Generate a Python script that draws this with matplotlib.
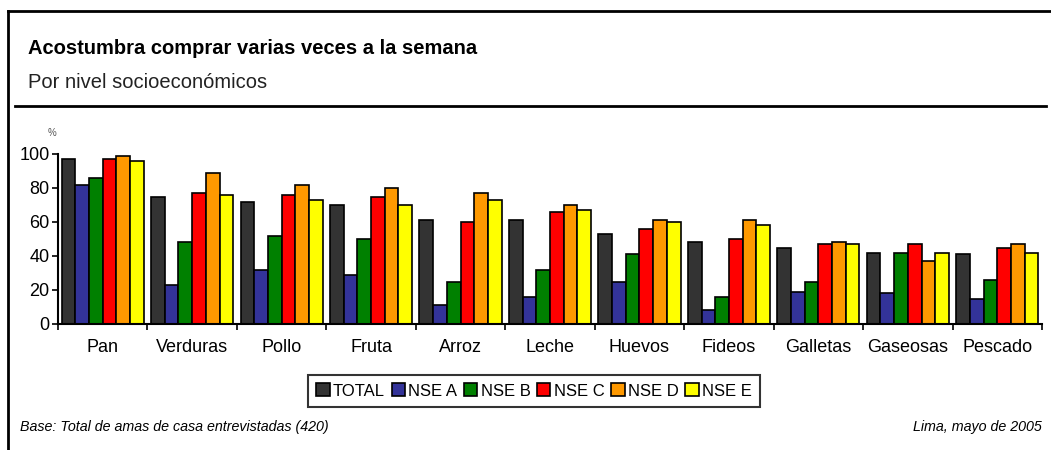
import matplotlib.pyplot as plt
import numpy as np
from matplotlib.lines import Line2D
from matplotlib.patches import Patch

# === DATA ===
categories = ["Pan", "Verduras", "Pollo", "Fruta", "Arroz", "Leche",
              "Huevos", "Fideos", "Galletas", "Gaseosas", "Pescado"]
series_names = ["TOTAL", "NSE A", "NSE B", "NSE C", "NSE D", "NSE E"]
total = [97, 75, 72, 70, 61, 61, 53, 48, 45, 42, 41]
nse_a = [82, 23, 32, 29, 11, 16, 25, 8, 19, 18, 15]
nse_b = [86, 48, 52, 50, 25, 32, 41, 16, 25, 42, 26]
nse_c = [97, 77, 76, 75, 60, 66, 56, 50, 47, 47, 45]
nse_d = [99, 89, 82, 80, 77, 70, 61, 61, 48, 37, 47]
nse_e = [96, 76, 73, 70, 73, 67, 60, 58, 47, 42, 42]
colors = ["#333333", "#333399", "#008000", "#ff0000", "#ff9900", "#ffff00"]

plt.rcParams['font.family'] = ['Liberation Sans', 'DejaVu Sans']

fig = plt.figure(figsize=(10.51, 4.5), dpi=100)
ax = fig.add_axes([58 / 1051, 126 / 450, 984 / 1051, 170 / 450])

series = [total, nse_a, nse_b, nse_c, nse_d, nse_e]
x = np.arange(len(categories))
width = 0.153
for i, (vals, col) in enumerate(zip(series, colors)):
    ax.bar(x + (i - 2.5) * width, vals, width, color=col, edgecolor="black",
           linewidth=1.2, label=series_names[i])

ax.set_xlim(-0.5, len(categories) - 0.5)
ax.set_ylim(0, 100)
ax.set_yticks(range(0, 101, 20))
ax.tick_params(axis="y", labelsize=13, length=4, width=1.2, pad=2)
ax.set_xticks(np.arange(-0.5, len(categories), 1))
ax.set_xticklabels([])
ax.tick_params(axis="x", length=4, width=1.2)
for xi, name in zip(x, categories):
    ax.text(xi, -14, name, ha="center", va="center", fontsize=13,
            transform=ax.transData, clip_on=False)
for s in ["top", "right"]:
    ax.spines[s].set_visible(False)
for s in ["left", "bottom"]:
    ax.spines[s].set_linewidth(1.5)
fig.text(52 / 1051, 1 - 133 / 450, "%", fontsize=7, color="#555555",
         ha="center", va="center")

fig.text(28 / 1051, 1 - 48 / 450, "Acostumbra comprar varias veces a la semana",
         fontsize=14.5, fontweight="bold", va="center", ha="left")
fig.text(28 / 1051, 1 - 83 / 450, "Por nivel socioeconómicos",
         fontsize=14.5, va="center", ha="left", color="#222222")

handles = [Patch(facecolor=c, edgecolor="black", linewidth=1.2) for c in colors]
leg = fig.legend(handles, series_names, loc="center",
                 bbox_to_anchor=(534 / 1051, 1 - 391 / 450), ncol=6,
                 fontsize=12, frameon=True, fancybox=False, edgecolor="black",
                 handlelength=0.8, handleheight=0.8, handletextpad=0.2,
                 columnspacing=0.4, borderpad=0.5, borderaxespad=0)
leg.get_frame().set_linewidth(1.5)

fig.text(20 / 1051, 1 - 427 / 450, "Base: Total de amas de casa entrevistadas (420)",
         fontsize=10.3, style="italic", va="center", ha="left")
fig.text(1042 / 1051, 1 - 427 / 450, "Lima, mayo de 2005",
         fontsize=10.3, style="italic", va="center", ha="right")

# frame lines
fig.add_artist(Line2D([8 / 1051, 1], [1 - 11 / 450] * 2, color="black", lw=2))
fig.add_artist(Line2D([8 / 1051] * 2, [0, 1 - 11 / 450], color="black", lw=2))
fig.add_artist(Line2D([15 / 1051, 1046 / 1051], [1 - 106 / 450] * 2, color="black", lw=2))

fig.savefig("out.png", dpi=100)
